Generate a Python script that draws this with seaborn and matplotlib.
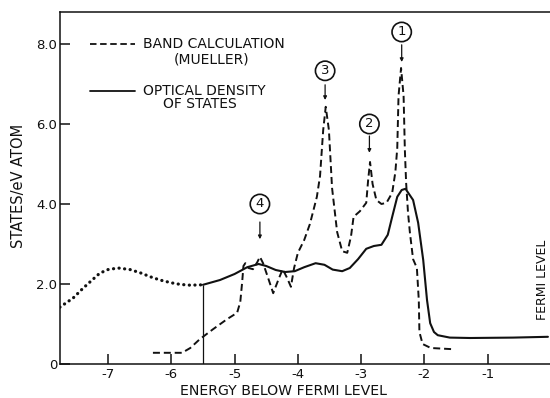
import matplotlib
matplotlib.use("Agg")
import matplotlib.pyplot as plt
import numpy as np
import pandas as pd
import seaborn as sns

# Band calculation (Mueller), states/eV atom vs energy below the Fermi level
band_energy = [-6.29, -5.83, -5.70, -5.55, -5.34, -5.12, -4.96, -4.91, -4.88, -4.86,
               -4.83, -4.78, -4.71, -4.64, -4.60, -4.55, -4.47, -4.39, -4.31, -4.24,
               -4.17, -4.11, -4.06, -4.00, -3.90, -3.81, -3.70, -3.65, -3.60, -3.56,
               -3.51, -3.46, -3.38, -3.30, -3.22, -3.16, -3.12, -3.02, -2.92, -2.89,
               -2.86, -2.82, -2.76, -2.68, -2.60, -2.51, -2.46, -2.43, -2.41, -2.37,
               -2.33, -2.31, -2.29, -2.26, -2.23, -2.18, -2.12, -2.09, -2.08, -2.03,
               -1.90, -1.55]
band_states = [0.28, 0.28, 0.40, 0.62, 0.87, 1.12, 1.28, 1.55, 2.05, 2.45,
               2.52, 2.40, 2.37, 2.55, 2.68, 2.52, 2.15, 1.77, 2.10, 2.37,
               2.15, 1.93, 2.40, 2.78, 3.10, 3.50, 4.18, 4.70, 5.85, 6.43,
               5.85, 4.40, 3.30, 2.82, 2.78, 3.20, 3.68, 3.82, 4.03, 4.60,
               5.05, 4.50, 4.10, 4.00, 4.03, 4.28, 4.80, 5.40, 6.70, 7.40,
               6.70, 5.35, 4.53, 3.78, 3.28, 2.62, 2.40, 1.60, 0.80, 0.50,
               0.40, 0.37]

# Optical density of states (measured range)
optical_energy = [-5.50, -5.23, -5.00, -4.80, -4.62, -4.50, -4.35, -4.20, -4.05, -3.90,
                  -3.72, -3.58, -3.45, -3.30, -3.18, -3.05, -2.92, -2.80, -2.68, -2.58,
                  -2.51, -2.43, -2.36, -2.30, -2.18, -2.10, -2.02, -1.96, -1.91, -1.85,
                  -1.79, -1.60, -1.28, -0.60, -0.05]
optical_states = [1.98, 2.10, 2.25, 2.42, 2.50, 2.45, 2.35, 2.30, 2.32, 2.42,
                  2.52, 2.48, 2.36, 2.32, 2.40, 2.62, 2.88, 2.95, 2.98, 3.23,
                  3.68, 4.18, 4.35, 4.38, 4.10, 3.53, 2.60, 1.60, 1.02, 0.80,
                  0.72, 0.66, 0.65, 0.66, 0.68]

# Extrapolated optical density below the measured range
extrap_energy = [-7.76, -7.55, -7.39, -7.25, -7.13, -7.00, -6.84, -6.65, -6.49, -6.33,
                 -6.18, -6.00, -5.86, -5.70, -5.50]
extrap_states = [1.42, 1.65, 1.90, 2.10, 2.27, 2.36, 2.40, 2.36, 2.28, 2.18,
                 2.10, 2.03, 1.99, 1.97, 1.98]

# Measured range starts here
cutoff_energy = -5.50
cutoff_states = 1.98

# Labelled peaks: (label, energy, label height, arrow top, arrow tip)
peak_labels = ["1", "2", "3", "4"]
peak_energy = [-2.36, -2.87, -3.57, -4.60]
peak_label_y = [8.30, 6.00, 7.33, 4.00]
peak_arrow_top = [7.98, 5.70, 6.98, 3.55]
peak_arrow_tip = [7.55, 5.28, 6.60, 3.12]

x_ticks = [-7, -6, -5, -4, -3, -2, -1]
x_tick_labels = ["-7", "-6", "-5", "-4", "-3", "-2", "-1"]
y_ticks = [0, 2, 4, 6, 8]
y_tick_labels = ["0", "2.0", "4.0", "6.0", "8.0"]

band_df = pd.DataFrame({"energy": band_energy, "states": band_states})
optical_df = pd.DataFrame({"energy": optical_energy, "states": optical_states})
extrap_df = pd.DataFrame({"energy": extrap_energy, "states": extrap_states})

sns.set_style("ticks")
plt.rcParams["font.family"] = ["DejaVu Sans"]
plt.rcParams["text.color"] = "black"

fig = plt.figure(figsize=(5.5, 3.98), dpi=100)
ax = fig.add_axes([60 / 550, 1 - 364 / 398, 490 / 550, 352 / 398])

ink = "#111111"
sns.lineplot(data=band_df, x="energy", y="states", ax=ax, sort=False, estimator=None,
             color=ink, lw=1.4, linestyle=(0, (3.6, 2.0)))
sns.lineplot(data=optical_df, x="energy", y="states", ax=ax, sort=False, estimator=None,
             color=ink, lw=1.5)
sns.lineplot(data=extrap_df, x="energy", y="states", ax=ax, sort=False, estimator=None,
             color=ink, lw=2.3, linestyle=(0, (0.05, 1.7)), dash_capstyle="round")
ax.vlines(cutoff_energy, 0, cutoff_states, color=ink, lw=0.9)

# Peak markers
for lab, xe, yl, ya, yt in zip(peak_labels, peak_energy, peak_label_y,
                               peak_arrow_top, peak_arrow_tip):
    ax.text(xe, yl, lab, ha="center", va="center", fontsize=9.5, color=ink,
            bbox=dict(boxstyle="circle,pad=0.24", fc="white", ec=ink, lw=1.2))
    ax.annotate("", xy=(xe, yt), xytext=(xe, ya),
                arrowprops=dict(arrowstyle="-|>", color=ink, lw=0.9,
                                mutation_scale=5, shrinkA=0, shrinkB=0))

# Key
key_x0, key_x1, text_x = -7.28, -6.57, -6.45
ax.plot([key_x0, key_x1], [8.0, 8.0], color=ink, lw=1.3, linestyle=(0, (3.6, 2.0)))
ax.text(text_x, 8.0, "BAND CALCULATION", ha="left", va="center", fontsize=10, color=ink)
ax.text(-5.36, 7.62, "(MUELLER)", ha="center", va="center", fontsize=10, color=ink)
ax.plot([key_x0, key_x1], [6.82, 6.82], color=ink, lw=1.3)
ax.text(text_x, 6.82, "OPTICAL DENSITY", ha="left", va="center", fontsize=10, color=ink)
ax.text(-5.55, 6.50, "OF STATES", ha="center", va="center", fontsize=10, color=ink)

# Fermi level marker at the right edge
ax.text(-0.24, 1.1, "FERMI LEVEL", rotation=90, ha="left", va="bottom",
        fontsize=9, color=ink, clip_on=False)

ax.set_xlim(-7.758, -7.758 + 490 / 63.3)
ax.set_ylim(0, 8.8)
ax.set_xticks(x_ticks)
ax.set_xticklabels(x_tick_labels)
ax.set_yticks(y_ticks)
ax.set_yticklabels(y_tick_labels)
ax.tick_params(axis="x", direction="in", length=7, width=1.1, pad=3, labelsize=9.5,
               colors=ink)
ax.tick_params(axis="y", direction="in", length=7, width=1.1, pad=2, labelsize=9.5,
               colors=ink)

for side in ["left", "bottom", "top"]:
    ax.spines[side].set_visible(True)
    ax.spines[side].set_linewidth(1.1)
    ax.spines[side].set_color(ink)
ax.spines["right"].set_visible(False)

ax.set_xlabel("ENERGY BELOW FERMI LEVEL", fontsize=10.2, color=ink)
ax.set_ylabel("STATES/eV ATOM", fontsize=10.5, color=ink)
ax.xaxis.set_label_coords(0.455, -0.056)
ax.yaxis.set_label_coords(-0.07, 0.506)

fig.savefig("out.png", dpi=100)
